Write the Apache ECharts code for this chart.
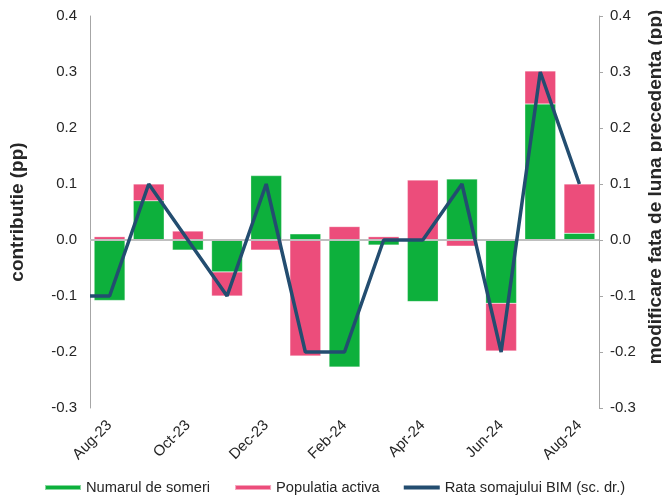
<!DOCTYPE html>
<html><head><meta charset="utf-8">
<script src="https://cdn.jsdelivr.net/npm/echarts@6/dist/echarts.min.js"></script>
<style>html,body{margin:0;padding:0;background:#fff}#c{width:662px;height:497px}</style>
</head><body><div id="c"></div>
<script>
const categories = ['Aug-23','Sep-23','Oct-23','Nov-23','Dec-23','Jan-24','Feb-24','Mar-24','Apr-24','May-24','Jun-24','Jul-24','Aug-24'];
const numarulSomeri = [-0.108, 0.070, -0.018, -0.057, 0.115, 0.011, -0.227, -0.009, -0.110, 0.109, -0.113, 0.243, 0.012];
const populatiaActiva = [0.006, 0.030, 0.016, -0.043, -0.018, -0.207, 0.024, 0.006, 0.107, -0.011, -0.085, 0.059, 0.088];
const rataSomaj = [-0.1, 0.1, 0.0, -0.1, 0.1, -0.2, -0.2, 0.0, 0.0, 0.1, -0.2, 0.3, 0.1];
const rataLeadIn = -0.1;

const font = 'Liberation Sans, Arial, sans-serif';
const txt = '#262626';
const lineData = [[-0.5, rataLeadIn]].concat(rataSomaj.map((v, i) => [i, v]));

const chart = echarts.init(document.getElementById('c'));
chart.setOption({
  animation: false,
  grid: { left: 90, right: 63, top: 16, bottom: 89, containLabel: false, outerBoundsMode: 'none' },
  legend: {
    top: 480, left: 44, padding: 0, itemGap: 24, itemWidth: 36, itemHeight: 5,
    textStyle: { fontFamily: font, fontSize: 14.7, color: txt },
    data: [
      { name: 'Numarul de someri', icon: 'rect' },
      { name: 'Populatia activa', icon: 'rect' },
      { name: 'Rata somajului BIM (sc. dr.)', icon: 'path://M0,0 L36,0 L36,4 L0,4 Z' }
    ]
  },
  xAxis: [
    {
      type: 'category', data: categories, position: 'bottom',
      axisLine: { show: false }, axisTick: { show: false },
      axisLabel: { interval: 1, rotate: 45, fontFamily: font, fontSize: 15, color: txt, margin: 15 }
    },
    { type: 'value', min: -0.5, max: 12.5, show: false }
  ],
  yAxis: [
    {
      type: 'value', min: -0.3, max: 0.4, interval: 0.1, position: 'left',
      name: 'contributie (pp)', nameLocation: 'middle', nameGap: 63, nameRotate: 90,
      nameTextStyle: { fontFamily: font, fontSize: 19, fontWeight: 'bold', color: txt },
      axisLine: { show: true, onZero: false, lineStyle: { color: '#a6a6a6', width: 1 } },
      axisTick: { show: false }, splitLine: { show: false },
      axisLabel: { fontFamily: font, fontSize: 15, color: txt, margin: 13, formatter: v => v.toFixed(1) }
    },
    {
      type: 'value', min: -0.3, max: 0.4, interval: 0.1, position: 'right',
      name: 'modificare fata de luna precedenta (pp)', nameLocation: 'middle', nameGap: 45, nameRotate: 90,
      nameTextStyle: { fontFamily: font, fontSize: 19, fontWeight: 'bold', color: txt, padding: [0, 0, 0, 50] },
      axisLine: { show: true, onZero: false, lineStyle: { color: '#a6a6a6', width: 1 } },
      axisTick: { show: true, inside: false, length: 4, lineStyle: { color: '#a6a6a6' } },
      splitLine: { show: false },
      axisLabel: { fontFamily: font, fontSize: 15, color: txt, margin: 11, formatter: v => v.toFixed(1) }
    }
  ],
  series: [
    {
      name: 'Numarul de someri', type: 'bar', stack: 'c', data: numarulSomeri,
      barCategoryGap: '21%', itemStyle: { color: '#0db03c', borderColor: 'rgba(255,255,255,0.5)', borderWidth: 0.5 },
      markLine: {
        silent: true, symbol: 'none', label: { show: false },
        lineStyle: { color: '#bfbfbf', width: 2, type: 'solid' },
        data: [{ yAxis: 0 }]
      },
      z: 2
    },
    {
      name: 'Populatia activa', type: 'bar', stack: 'c', data: populatiaActiva,
      itemStyle: { color: '#ec4d7b', borderColor: 'rgba(255,255,255,0.5)', borderWidth: 0.5 }, z: 2
    },
    {
      name: 'Rata somajului BIM (sc. dr.)', type: 'line', xAxisIndex: 1, yAxisIndex: 1,
      data: lineData, symbol: 'none', lineStyle: { color: '#234d70', width: 3.5 },
      itemStyle: { color: '#234d70' }, z: 5
    }
  ]
});
</script></body></html>
